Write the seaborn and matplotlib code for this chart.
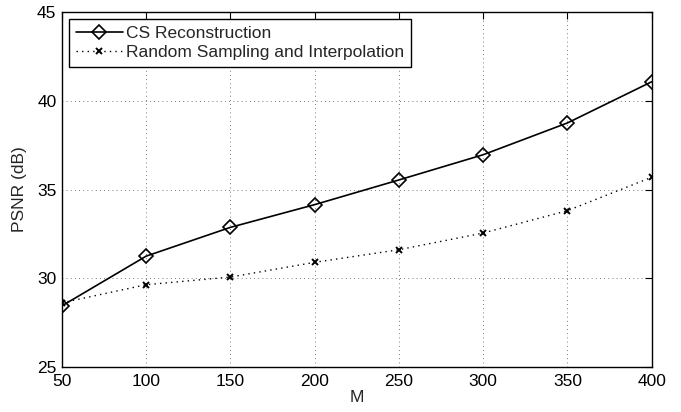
import pandas as pd
import matplotlib
matplotlib.use("Agg")
import matplotlib.pyplot as plt
import seaborn as sns

# --- Data ---
m_values = [50, 100, 150, 200, 250, 300, 350, 400]
cs_psnr = [28.45, 31.25, 32.87, 34.15, 35.54, 36.96, 38.75, 41.07]
rs_psnr = [28.62, 29.64, 30.07, 30.9, 31.61, 32.55, 33.81, 35.69]
x_ticks = [50, 100, 150, 200, 250, 300, 350, 400]
y_ticks = [25, 30, 35, 40, 45]

df = pd.DataFrame({"M": m_values, "CS": cs_psnr, "RS": rs_psnr})

sns.set_style("white")
plt.rcParams["font.family"] = ["Liberation Sans", "DejaVu Sans"]

fig = plt.figure(figsize=(6.81, 4.12), dpi=100)
ax = fig.add_axes([0.091, 0.109, 0.866, 0.862])

sns.lineplot(data=df, x="M", y="CS", ax=ax, color="black", linewidth=1.2,
             marker="D", markersize=7, markerfacecolor="none",
             markeredgecolor="black", markeredgewidth=1.2,
             label="CS Reconstruction")
sns.lineplot(data=df, x="M", y="RS", ax=ax, color="black", linewidth=1.0,
             linestyle=(0, (1, 3)), marker="x", markersize=5,
             markeredgecolor="black", markeredgewidth=1.4,
             label="Random Sampling and Interpolation")

ax.set_xlim(50, 400)
ax.set_ylim(25, 45)
ax.set_xticks(x_ticks)
ax.set_yticks(y_ticks)
ax.grid(True, linestyle=(0, (1, 4)), color="black", linewidth=0.6, alpha=0.7)
ax.tick_params(direction="in", length=5, width=0.8, top=True, right=True,
               labelsize=12.5, colors="black")
ax.tick_params(axis="x", pad=5)
ax.tick_params(axis="y", pad=4)
for s in ax.spines.values():
    s.set_color("black")
    s.set_linewidth(1.0)

ax.set_xlabel("M", fontsize=12.5, labelpad=1)
ax.set_ylabel("PSNR (dB)", fontsize=12.5, labelpad=7)

leg = ax.legend(loc="upper left", fontsize=12.5, frameon=True, fancybox=False,
                edgecolor="black", framealpha=1, borderpad=0.4,
                labelspacing=0.2, handlelength=2.7, handletextpad=0.2,
                borderaxespad=0.4)
leg.get_frame().set_linewidth(1.0)

fig.savefig("out.png", dpi=100)
